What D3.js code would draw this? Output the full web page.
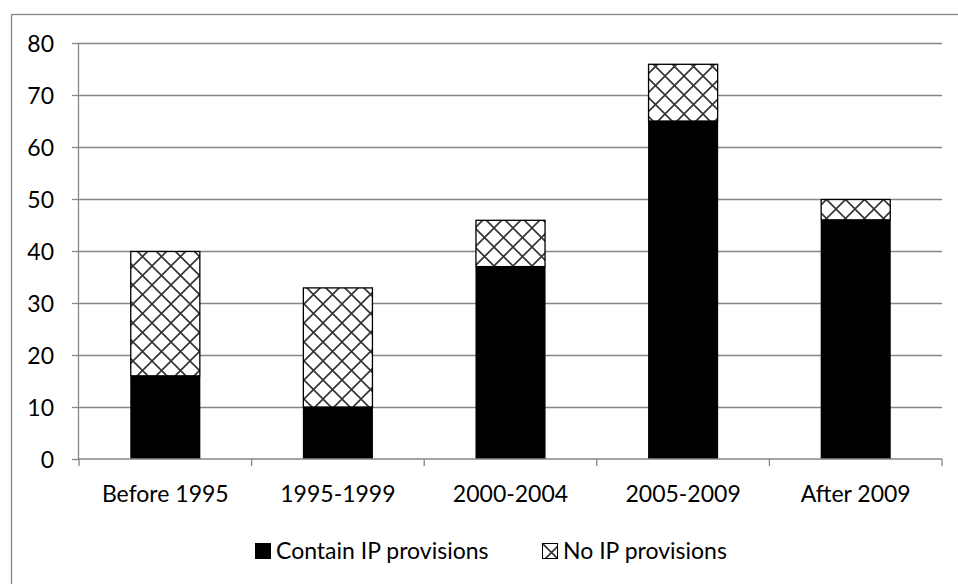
<!DOCTYPE html>
<html>
<head>
<meta charset="utf-8">
<script src="https://cdn.jsdelivr.net/npm/d3@7"></script>
<style>
html,body{margin:0;padding:0;background:#fff;}
svg{display:block;}
text{font-family:Lato,"Open Sans",sans-serif;fill:#000;}
</style>
</head>
<body>
<svg id="chart" width="958" height="584"></svg>
<script>
const categories = ["Before 1995", "1995-1999", "2000-2004", "2005-2009", "After 2009"];
const containIP = [16, 10, 37, 65, 46];
const noIP = [24, 23, 9, 11, 4];
const yTicks = [0, 10, 20, 30, 40, 50, 60, 70, 80];
const seriesNames = ["Contain IP provisions", "No IP provisions"];

(function () {
const svg = d3.select("#chart");
const gray = "#868686";
const mLeft = 79, mRight = 942, mTop = 43, mBottom = 459;

// outer border
svg.append("rect").attr("x", 11.5).attr("y", 14.5).attr("width", 960).attr("height", 600)
  .attr("fill", "none").attr("stroke", gray).attr("stroke-width", 1.3);

// hatch pattern
const P = 19;
const defs = svg.append("defs");
const pat = defs.append("pattern").attr("id", "hatch").attr("patternUnits", "userSpaceOnUse")
  .attr("width", P).attr("height", P);
pat.append("rect").attr("width", P).attr("height", P).attr("fill", "#fff");
pat.append("path").attr("d", `M0,0L${P},${P}M0,${P}L${P},0`)
  .attr("stroke", "#333").attr("stroke-width", 1.6);

const x = d3.scaleBand().domain(categories).range([mLeft, mRight]).paddingInner(0.594).paddingOuter(0.297);
const y = d3.scaleLinear().domain([0, 80]).range([mBottom, mTop]);

// gridlines
svg.append("g").attr("transform", `translate(${mLeft},0)`)
  .call(d3.axisLeft(y).tickValues(yTicks.filter(d => d > 0)).tickSize(-(mRight - mLeft)).tickFormat(""))
  .call(g => g.select(".domain").remove())
  .call(g => g.selectAll("line").attr("stroke", gray).attr("stroke-width", 1.3));

// stacked data
const data = categories.map((c, i) => ({cat: c, contain: containIP[i], no: noIP[i]}));
const stack = d3.stack().keys(["contain", "no"])(data);

svg.append("g").selectAll("rect").data(stack[0]).join("rect")
  .attr("x", d => x(d.data.cat)).attr("width", x.bandwidth())
  .attr("y", d => y(d[1])).attr("height", d => y(d[0]) - y(d[1]))
  .attr("fill", "#000");

svg.append("g").selectAll("rect").data(stack[1]).join("rect")
  .attr("x", d => x(d.data.cat) + 0.5).attr("width", x.bandwidth() - 1)
  .attr("y", d => y(d[1]) + 0.5).attr("height", d => y(d[0]) - y(d[1]) - 0.5)
  .attr("fill", "url(#hatch)").attr("stroke", "#000").attr("stroke-width", 1.3);

// y axis
svg.append("g").attr("transform", `translate(${mLeft},0)`)
  .call(d3.axisLeft(y).tickValues(yTicks).tickSize(7).tickPadding(18).tickFormat(d3.format("d")))
  .call(g => g.select(".domain").attr("stroke", gray).attr("stroke-width", 1.3).attr("d", `M-0.5,${mTop}V${mBottom}`))
  .call(g => g.selectAll("line").attr("stroke", gray).attr("stroke-width", 1.3))
  .call(g => g.selectAll("text").attr("font-size", 23).attr("font-family", "Lato").attr("dy", "0.36em"));

// x axis
const xg = svg.append("g").attr("transform", `translate(0,${mBottom})`);
xg.append("line").attr("x1", mLeft).attr("x2", mRight).attr("stroke", gray).attr("stroke-width", 1.3);
const half = (x.step() - x.bandwidth()) / 2;
const bounds = categories.map(c => x(c) - half).concat([x(categories[categories.length - 1]) + x.bandwidth() + half]);
xg.selectAll("line.tk").data(bounds).join("line").attr("class", "tk")
  .attr("x1", d => d).attr("x2", d => d).attr("y1", 0).attr("y2", 7)
  .attr("stroke", gray).attr("stroke-width", 1.3);
xg.selectAll("text").data(categories).join("text")
  .attr("x", d => x(d) + x.bandwidth() / 2).attr("y", 43)
  .attr("text-anchor", "middle").attr("font-size", 23).text(d => d);

// legend
const legX = [255, 542];
const leg = svg.append("g");
seriesNames.forEach((s, i) => {
  const g = leg.append("g").attr("transform", `translate(${legX[i]},543)`);
  g.append("rect").attr("x", i ? 0.5 : 0).attr("y", i ? 0.5 : 0)
    .attr("width", i ? 15 : 16).attr("height", i ? 15 : 16)
    .attr("fill", i ? "url(#hatch)" : "#000").attr("stroke", i ? "#000" : "none");
  g.append("text").attr("x", 21).attr("y", 15.5).attr("font-size", 23).text(s);
});
})();
</script>
</body>
</html>
